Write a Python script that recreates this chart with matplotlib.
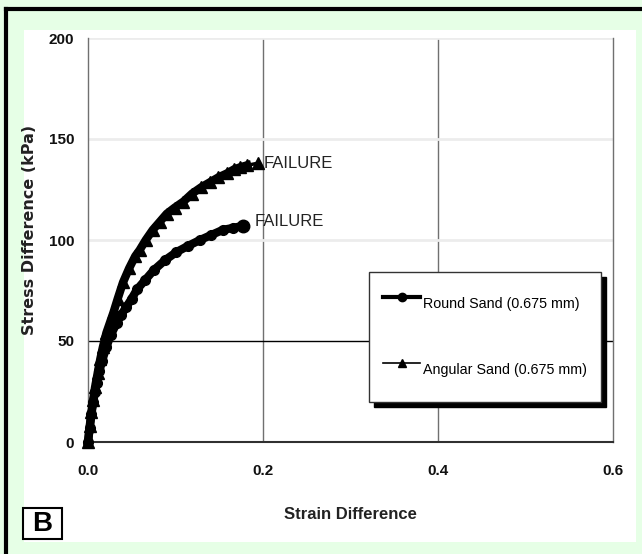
import matplotlib
import numpy as np
import matplotlib.pyplot as plt
from matplotlib.lines import Line2D
from matplotlib.patches import Rectangle

matplotlib.use("Agg")

SANS = ["Liberation Sans", "DejaVu Sans"]

# angular sand (0.675 mm)
angular_strain = [0.000, 0.002, 0.004, 0.006, 0.008, 0.011, 0.014, 0.017, 0.021, 0.025,
                  0.029, 0.034, 0.040, 0.047, 0.054, 0.059, 0.066, 0.074, 0.082, 0.090,
                  0.099, 0.109, 0.119, 0.129, 0.139, 0.149, 0.159, 0.167, 0.174, 0.182,
                  0.188, 0.194]
angular_stress = [0, 8, 15, 21, 27, 34, 41, 47, 54, 59,
                  64, 71, 79, 86, 92, 95, 100, 105, 109, 113,
                  116, 119, 123, 126, 128.5, 131, 133, 135, 136, 137,
                  137.5, 138]

# round sand (0.675 mm)
round_strain = [0.000, 0.002, 0.004, 0.006, 0.008, 0.010, 0.013, 0.016, 0.021, 0.026,
                0.033, 0.038, 0.044, 0.050, 0.056, 0.065, 0.075, 0.088, 0.101, 0.114,
                0.128, 0.141, 0.154, 0.166, 0.177]
round_stress = [0, 7, 14, 20, 25, 29, 35, 40, 47, 53,
                59, 63, 67, 71, 75.5, 80, 85, 90, 94, 97,
                100, 102.5, 105, 106, 107]

x_ticks = [0.0, 0.2, 0.4, 0.6]
x_tick_labels = ["0.0", "0.2", "0.4", "0.6"]
y_ticks = [0, 50, 100, 150, 200]

failure_labels = [(0.201, 138, "FAILURE"), (0.191, 109, "FAILURE")]

fig = plt.figure(figsize=(6.42, 5.54), dpi=100)
fig.patch.set_facecolor("#e6ffe6")

# white panel and black frame on top / left
fig.patches.append(Rectangle((24 / 642, 1 - 542 / 554), 612 / 642, 512 / 554,
                             transform=fig.transFigure, facecolor="white",
                             edgecolor="none", zorder=-5))
fig.add_artist(Line2D([6 / 642, 1], [1 - 9 / 554, 1 - 9 / 554], transform=fig.transFigure,
                      color="black", linewidth=3))
fig.add_artist(Line2D([6 / 642, 6 / 642], [0, 1 - 9 / 554], transform=fig.transFigure,
                      color="black", linewidth=3))

ax = fig.add_axes([88 / 642, 1 - 442 / 554, 525 / 642, 404 / 554])
ax.set_facecolor("white")

ax.set_xlim(0, 0.6)
ax.set_ylim(0, 200)

# grid
for v in [0.2, 0.4]:
    ax.axvline(v, color="#707070", linewidth=1, zorder=1)
for h in [100, 150, 200]:
    ax.axhline(h, color="#ececec", linewidth=2, zorder=1)
ax.axhline(50, color="black", linewidth=1, zorder=1)

ax.spines["top"].set_visible(False)
ax.spines["left"].set_color("#707070")
ax.spines["right"].set_color("#707070")
ax.spines["left"].set_linewidth(1)
ax.spines["right"].set_linewidth(1)
ax.spines["bottom"].set_color("#303030")
ax.spines["bottom"].set_linewidth(1.5)

ax.plot(angular_strain[:-2], angular_stress[:-2], color="black", linewidth=6, marker="^",
        markersize=8, zorder=3, clip_on=False)
# thin tail up to the failure point
ax.plot(angular_strain[-3:], angular_stress[-3:], color="black", linewidth=2.5,
        zorder=3)
ax.plot(angular_strain[-1], angular_stress[-1], "^", color="black", markersize=8, zorder=4)
ax.plot(round_strain, round_stress, color="black", linewidth=6, marker="o",
        markersize=7, zorder=3, clip_on=False)
ax.plot(round_strain[-1], round_stress[-1], "o", color="black", markersize=9, zorder=4)

for x, y, s in failure_labels:
    ax.text(x, y, s, family=SANS, fontsize=12, ha="left", va="center", color="#222222")

ax.set_xticks(x_ticks)
ax.set_xticklabels(x_tick_labels)
ax.set_yticks(y_ticks)
ax.tick_params(length=0)
ax.tick_params(axis="x", pad=16)
ax.tick_params(axis="y", pad=10)
for lab in ax.get_xticklabels() + ax.get_yticklabels():
    lab.set_family(SANS)
    lab.set_fontweight("bold")
    lab.set_fontsize(11)
    lab.set_color("#111111")

ax.set_xlabel("Strain Difference", family=SANS, fontweight="bold", fontsize=12,
              labelpad=21, color="#222222")
fig.text(30 / 642, 1 - 230 / 554, "Stress Difference (kPa)", rotation=90,
         fontsize=11.5, fontweight="bold", ha="center", va="center", color="#222222")

handles = [Line2D([], [], color="black", linewidth=3, marker="o", markersize=6),
           Line2D([], [], color="black", linewidth=1.2, marker="^", markersize=6)]
leg = ax.legend(handles, ["Round Sand (0.675 mm)", "Angular Sand (0.675 mm)"],
                loc="upper left", bbox_to_anchor=(0.535, 0.421),
                prop={"family": SANS, "size": 10.3},
                handlelength=2.6, handleheight=3.4, handletextpad=0.15,
                labelspacing=2.15, borderpad=1.0, borderaxespad=0,
                fancybox=False, framealpha=1,
                shadow={"color": "black", "alpha": 1, "ox": 3.6, "oy": -3.6})
leg.get_frame().set_edgecolor("#333333")
leg.get_frame().set_linewidth(1)

# panel letter
fig.patches.append(Rectangle((23 / 642, 1 - 539 / 554), 39 / 642, 31 / 554,
                             transform=fig.transFigure, facecolor="white",
                             edgecolor="black", linewidth=1.5, zorder=2))
fig.text(42.5 / 642, 1 - 524 / 554, "B", fontsize=20, fontweight="bold", ha="center",
         va="center", family=SANS, zorder=3)

fig.savefig("out.png", dpi=100, facecolor=fig.get_facecolor())
